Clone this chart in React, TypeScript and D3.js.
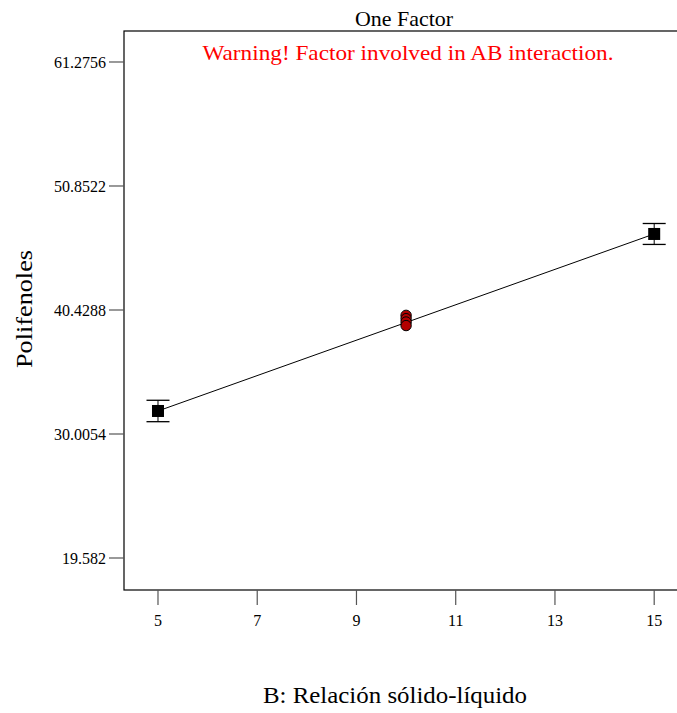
import React from "react";
import * as d3 from "d3";

const W = 677;
const H = 713;

const yTickValues = [19.582, 30.0054, 40.4288, 50.8522, 61.2756];
const yTickLabels = ["19.582", "30.0054", "40.4288", "50.8522", "61.2756"];
const xTickValues = [5, 7, 9, 11, 13, 15];

const designX = [5, 15];
const designY = [31.94, 46.82];
const designErr = [0.9, 0.88];

const centerX = [10, 10, 10, 10];
const centerY = [39.98, 39.7, 39.42, 39.12];

const lineX = [5, 15];
const lineY = [31.94, 46.82];

export default function App() {
  const x = d3.scaleLinear().domain([4.315, 15.52]).range([124, 680]);
  const y = d3.scaleLinear().domain([16.892, 63.881]).range([590, 31]);
  const font = "Liberation Serif, Times New Roman, serif";
  const line = d3
    .line<[number, number]>()
    .x((d) => x(d[0]))
    .y((d) => y(d[1]));
  const lineData: [number, number][] = lineX.map((v, i) => [v, lineY[i]]);
  const [x0, x1] = x.range();
  const [yb, yt] = y.range();
  return (
    <svg
      width={W}
      height={H}
      style={{ position: "absolute", left: 0, top: 0, background: "#fff", fontFamily: font }}
    >
      <rect x={0} y={0} width={W} height={H} fill="#fff" />
      {/* frame */}
      <rect x={x0} y={yt} width={x1 - x0} height={yb - yt} fill="none" stroke="#000" strokeWidth={1.2} />
      {/* y ticks */}
      {yTickValues.map((v, i) => (
        <g key={"yt" + i}>
          <line x1={x0 - 15} x2={x0} y1={y(v)} y2={y(v)} stroke="#555" strokeWidth={1.2} />
          <text x={x0 - 18} y={y(v)} dy="0.35em" textAnchor="end" fontSize={16}>
            {yTickLabels[i]}
          </text>
        </g>
      ))}
      {/* x ticks */}
      {xTickValues.map((v, i) => (
        <g key={"xt" + i}>
          <line x1={x(v)} x2={x(v)} y1={yb} y2={yb + 15} stroke="#555" strokeWidth={1.2} />
          <text x={x(v)} y={yb + 36} textAnchor="middle" fontSize={16}>
            {v}
          </text>
        </g>
      ))}
      {/* fitted line */}
      <path d={line(lineData) || ""} fill="none" stroke="#000" strokeWidth={1} />
      {/* error bars and squares */}
      {designX.map((v, i) => {
        const cx = x(v);
        const cy = y(designY[i]);
        const top = y(designY[i] + designErr[i]);
        const bot = y(designY[i] - designErr[i]);
        return (
          <g key={"d" + i}>
            <line x1={cx} x2={cx} y1={top} y2={bot} stroke="#000" strokeWidth={1} />
            <line x1={cx - 11.5} x2={cx + 11.5} y1={top} y2={top} stroke="#000" strokeWidth={1.3} />
            <line x1={cx - 11.5} x2={cx + 11.5} y1={bot} y2={bot} stroke="#000" strokeWidth={1.3} />
            <rect x={cx - 6} y={cy - 6} width={12} height={12} fill="#000" />
          </g>
        );
      })}
      {/* center points */}
      {centerX.map((v, i) => (
        <circle key={"c" + i} cx={x(v)} cy={y(centerY[i])} r={5.2} fill="#b30000" stroke="#000" strokeWidth={1} />
      ))}
      {/* titles */}
      <text x={404} y={26} textAnchor="middle" fontSize={21} textLength={98} lengthAdjust="spacingAndGlyphs">
        One Factor
      </text>
      <text x={408} y={60} textAnchor="middle" fontSize={22} fill="#ff0000" textLength={411} lengthAdjust="spacingAndGlyphs">
        Warning! Factor involved in AB interaction.
      </text>
      <text x={395} y={703} textAnchor="middle" fontSize={23} textLength={264} lengthAdjust="spacingAndGlyphs">
        B: Relación sólido-líquido
      </text>
      <text transform={`translate(32,${309}) rotate(-90)`} textAnchor="middle" fontSize={23} textLength={118} lengthAdjust="spacingAndGlyphs">
        Polifenoles
      </text>
    </svg>
  );
}
